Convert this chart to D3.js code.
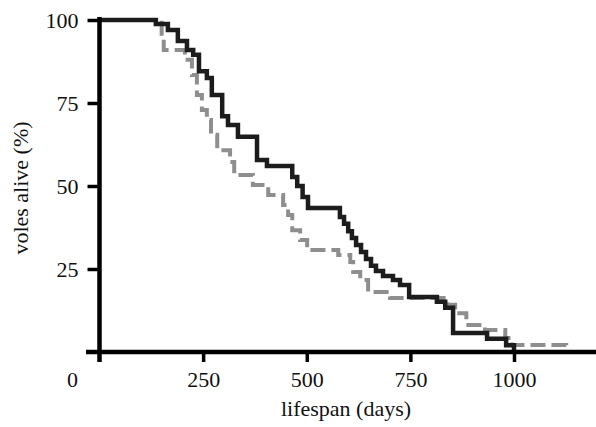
<!DOCTYPE html>
<html>
<head>
<meta charset="utf-8">
<script src="https://d3js.org/d3.v7.min.js"></script>
<style>
  body { margin: 0; background: #fff; }
  text { font-family: "Liberation Serif", "DejaVu Serif", serif; fill: #111; }
</style>
</head>
<body>
<svg id="chart" width="596" height="427"></svg>
<script>
// survival curves (days, % alive after each death)
var solidDays = [0, 136, 165, 189, 211, 226, 240, 259, 271, 296, 310, 334, 380, 404, 465, 477, 490, 503,
  580, 590, 600, 609, 619, 631, 643, 655, 667, 684, 708, 725, 747, 814, 834, 853, 935, 981, 1000];
var solidAlive = [100, 98.8, 97, 93.7, 91, 89.5, 84.6, 82.5, 77.4, 71, 68.4, 64.8, 57.8, 56, 52.7, 50, 46.7, 43.4,
  40.7, 38.6, 36.4, 34.3, 32.2, 30.1, 28, 26, 24.4, 22.9, 21.7, 20.2, 16.6, 15.1, 13.3, 5.7, 4.0, 2.0, 0];

var dashDays = [0, 150, 155, 206, 223, 235, 247, 259, 269, 284, 315, 325, 370, 407, 443, 455, 465, 484, 501,
  576, 605, 612, 629, 648, 701, 839, 858, 885, 930, 979, 995, 1126];
var dashAlive = [100, 95, 91, 88, 83.4, 77.4, 72.9, 69.9, 65.4, 60.8, 57.2, 53.3, 50.3, 47.3, 44.3, 41.3, 36.7, 33.7, 30.7,
  29.2, 27.1, 24.1, 21.7, 18.1, 16.3, 14.2, 11.7, 8.1, 6.6, 4.2, 2.1, 0.6];

var xTicks = [250, 500, 750, 1000];
var yTicks = [25, 50, 75, 100];

var svg = d3.select("#chart");

var x = d3.scaleLinear().domain([0, 1000]).range([99.5, 514]);
var y = d3.scaleLinear().domain([0, 100]).range([352, 20]);

function pairs(days, alive) {
  return days.map(function(d, i) { return [d, alive[i]]; });
}

var line = d3.line()
  .x(function(d) { return x(d[0]); })
  .y(function(d) { return y(d[1]); })
  .curve(d3.curveStepAfter);

// dashed curve first, solid drawn on top
svg.append("path")
  .attr("d", line(pairs(dashDays, dashAlive)))
  .attr("fill", "none")
  .attr("stroke", "#8e8e8e")
  .attr("stroke-width", 4)
  .attr("stroke-dasharray", "15,6");

svg.append("path")
  .attr("d", line(pairs(solidDays, solidAlive)))
  .attr("fill", "none")
  .attr("stroke", "#1c1c1c")
  .attr("stroke-width", 4.5);

var fs = 22;

// x axis
var xAxis = d3.axisBottom(x).tickValues(xTicks).tickSize(10).tickPadding(9).tickFormat(d3.format("d"));
var gx = svg.append("g").attr("transform", "translate(0," + y(0) + ")").call(xAxis);
gx.select(".domain").remove();
gx.append("line").attr("x1", 86).attr("x2", 596).attr("y1", 0).attr("y2", 0)
  .attr("stroke", "#000").attr("stroke-width", 4.5);
gx.selectAll(".tick line").attr("stroke", "#000").attr("stroke-width", 3.5);
gx.selectAll(".tick text").attr("font-size", fs).attr("fill", "#111")
  .style("font-family", "Liberation Serif, serif");

// y axis
var yAxis = d3.axisLeft(y).tickValues(yTicks).tickSize(12).tickPadding(9);
var gy = svg.append("g").attr("transform", "translate(" + x(0) + ",0)").call(yAxis);
gy.select(".domain").remove();
gy.append("line").attr("x1", 0).attr("x2", 0).attr("y1", 17).attr("y2", 362)
  .attr("stroke", "#000").attr("stroke-width", 4.5);
gy.selectAll(".tick line").attr("stroke", "#000").attr("stroke-width", 3.5);
gy.selectAll(".tick text").attr("font-size", fs).attr("fill", "#111")
  .style("font-family", "Liberation Serif, serif");

// origin label
svg.append("text").attr("x", 72.5).attr("y", 387)
  .attr("text-anchor", "middle").attr("font-size", fs).text("0");

// axis titles
svg.append("text").attr("x", 346).attr("y", 416)
  .attr("text-anchor", "middle").attr("font-size", fs).text("lifespan (days)");

svg.append("text")
  .attr("transform", "translate(28,188) rotate(-90)")
  .attr("text-anchor", "middle").attr("font-size", fs).text("voles alive (%)");
</script>
</body>
</html>
